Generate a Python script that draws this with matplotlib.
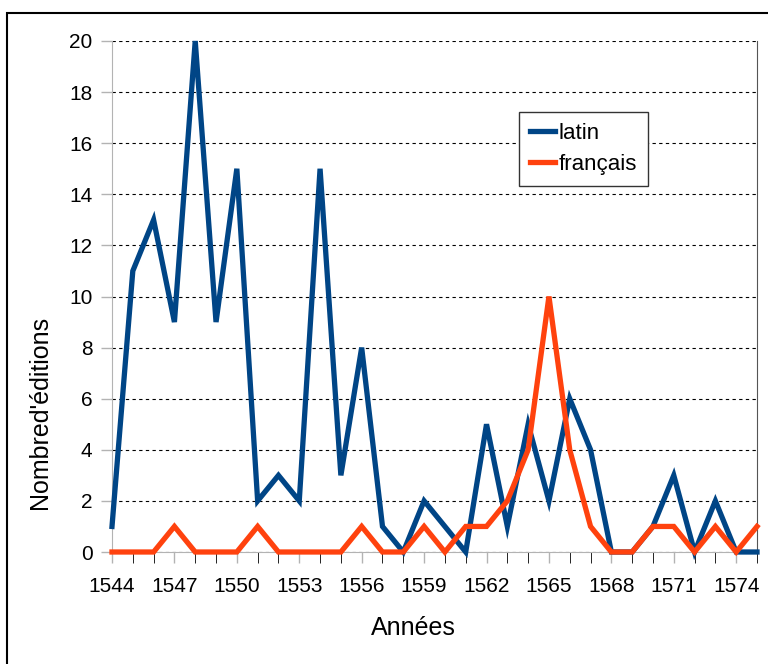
import matplotlib.pyplot as plt
from matplotlib.patches import Rectangle

plt.rcParams['font.family'] = ['Liberation Sans', 'DejaVu Sans']

years = list(range(1544, 1576))
latin = [1, 11, 13, 9, 20, 9, 15, 2, 3, 2, 15, 3, 8, 1, 0, 2,
         1, 0, 5, 1, 5, 2, 6, 4, 0, 0, 1, 3, 0, 2, 0, 0]
francais = [0, 0, 0, 1, 0, 0, 0, 1, 0, 0, 0, 0, 1, 0, 0, 1,
            0, 1, 1, 2, 4, 10, 4, 1, 0, 0, 1, 1, 0, 1, 0, 1]
tick_years = list(range(1544, 1575, 3))

fig = plt.figure(figsize=(7.68, 6.64), dpi=100)
ax = fig.add_axes([112 / 768, 1 - 552 / 664, 645 / 768, 511 / 664])

ax.plot(years, latin, color='#004586', lw=3.8, label='latin',
        solid_joinstyle='miter', clip_on=False, zorder=3)
ax.plot(years, francais, color='#ff420e', lw=3.8, label='français',
        solid_joinstyle='miter', clip_on=False, zorder=4)

ax.set_xlim(1544, 1575)
ax.set_ylim(0, 20)
ax.set_yticks(range(0, 21, 2))
ax.set_xticks(tick_years)
ax.set_xticks(years, minor=True)
ax.tick_params(axis='both', labelsize=15, color='#b3b3b3', width=1)
ax.tick_params(axis='x', which='both', direction='out', length=8, pad=10)
ax.tick_params(axis='y', length=8, pad=6)

ax.yaxis.grid(True, color='black', linestyle=(0, (3, 3)), linewidth=0.8)
ax.set_axisbelow(True)
for s in ['left', 'bottom']:
    ax.spines[s].set_color('#b3b3b3')
ax.spines['right'].set_color('#555555')
ax.spines['top'].set_visible(False)

ax.set_xlabel('Années', fontsize=18)
ax.xaxis.set_label_coords(0.467, -0.126)
ax.set_ylabel("Nombred'éditions", fontsize=18)
ax.yaxis.set_label_coords(-0.093, 0.274)

leg = ax.legend(loc='upper left', bbox_to_anchor=(0.631, 0.861),
                borderaxespad=0, fontsize=16, handlelength=1.1,
                handletextpad=0.2, fancybox=False, framealpha=1,
                edgecolor='#333333', borderpad=0.5, labelspacing=0.45)
leg.get_frame().set_linewidth(1)

fig.patches.append(Rectangle((7 / 768, -0.1), 1.2, 1.1 - 13 / 664,
                             transform=fig.transFigure, fill=False,
                             edgecolor='black', lw=1.5))

fig.savefig('out.png', dpi=100)
